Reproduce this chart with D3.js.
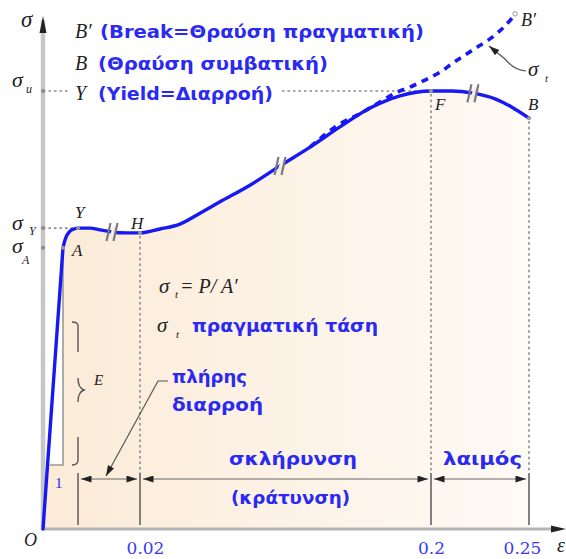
<!DOCTYPE html>
<html>
<head>
<meta charset="utf-8">
<script src="https://cdn.jsdelivr.net/npm/d3@7"></script>
<style>
  html, body { margin: 0; padding: 0; background: #fff; }
  svg { display: block; }
</style>
</head>
<body>
<svg id="chart" width="566" height="559"></svg>
<script>
// Engineering stress–strain curve, stress normalised so that σu = 1
const strain = [0, 0.00412, 0.00454, 0.00495, 0.00557, 0.00639, 0.00722, 0.00969, 0.01175, 0.01423, 0.01711, 0.02,
                0.0324, 0.0447, 0.0571, 0.0695, 0.0880, 0.1066, 0.1252, 0.1437, 0.1623, 0.1808, 0.2,
                0.2107, 0.2214, 0.2327, 0.2413, 0.25];
const stress = [0, 0.642, 0.660, 0.671, 0.680, 0.685, 0.687, 0.687, 0.683, 0.678, 0.676, 0.676,
                0.685, 0.696, 0.721, 0.747, 0.785, 0.829, 0.872, 0.918, 0.961, 0.989, 1.0,
                1.0, 0.995, 0.982, 0.963, 0.938];

// True stress branch (dashed) rising to B'
const trueStrain = [0.1252, 0.1437, 0.1561, 0.1684, 0.1777, 0.1870, 0.1963, 0.2046, 0.2112, 0.2173, 0.2235, 0.2301, 0.2367, 0.2429];
const trueStress = [0.872, 0.925, 0.948, 0.975, 0.995, 1.009, 1.025, 1.043, 1.064, 1.082, 1.100, 1.119, 1.144, 1.174];

// Strain ticks
const tickValues = [0.02, 0.2, 0.25];
const tickLabels = ["0.02", "0.2", "0.25"];

// Named points on the curve: A (proportional limit), Y (yield), H, F (ultimate), B (break)
const pointNames = ["A", "Y", "H", "F", "B"];
const pointStrains = [0.00412, 0.00722, 0.02, 0.2, 0.25];

// Stress levels marked on the vertical axis
const levelSubs = ["u", "Y", "A"];
const levelStress = [1.0, 0.687, 0.642];

// Axis breaks drawn on the curve
const breakStrains = [0.01423, 0.1066, 0.2214];

// Lower corner of the elastic slope triangle
const slopeBase = 0.146;

const svg = d3.select("#chart");
const x = d3.scaleLinear().domain([0, 0.02, 0.2, 0.25]).range([43, 140, 431, 529]);
const y = d3.scaleLinear().domain([0, 1]).range([529, 91]);

const BLUE = "#1818f4";
const TBLUE = "#2a2af2";
const serif = "'Liberation Serif', 'Times New Roman', serif";
const sans = "'DejaVu Sans', Verdana, sans-serif";

const defs = svg.append("defs");
const grad = defs.append("linearGradient").attr("id", "fillGrad")
  .attr("gradientUnits", "userSpaceOnUse")
  .attr("x1", x(0)).attr("x2", x(0.25)).attr("y1", 0).attr("y2", 0);
grad.append("stop").attr("offset", 0).attr("stop-color", "#fbebd7");
grad.append("stop").attr("offset", 1).attr("stop-color", "#fefaf5");

defs.append("marker").attr("id", "arr")
  .attr("viewBox", "0 0 12 8").attr("refX", 12).attr("refY", 4)
  .attr("markerWidth", 12).attr("markerHeight", 7)
  .attr("markerUnits", "userSpaceOnUse").attr("orient", "auto-start-reverse")
  .append("path").attr("d", "M0,0L12,4L0,8Z").attr("fill", "#222");

// ---- curve geometry ----
const pts = strain.map((s, i) => [x(s), y(stress[i])]);
const lineGen = d3.line().curve(d3.curveMonotoneX);
const tailD = lineGen(pts.slice(1));
const curveD = `M${pts[0][0]},${pts[0][1]}L` + tailD.slice(1);
const stressAt = s => stress[strain.indexOf(s)];

// filled region under the curve
svg.append("path")
  .attr("d", curveD + `L${x(0.25)},${y(0)}L${x(0)},${y(0)}Z`)
  .attr("fill", "url(#fillGrad)");

// elastic slope triangle (white inside)
const sA = pointStrains[0], fA = stressAt(sA);
const E = fA / sA;
svg.append("path")
  .attr("d", `M${x(sA)},${y(fA)}L${x(sA)},${y(slopeBase)}L${x(slopeBase / E)},${y(slopeBase)}Z`)
  .attr("fill", "#fff");
svg.append("path")
  .attr("d", `M${x(sA)},${y(fA) + 2}L${x(sA)},${y(slopeBase)}L${x(slopeBase / E) + 2},${y(slopeBase)}`)
  .attr("fill", "none").attr("stroke", "#9a9a9a").attr("stroke-width", 1.6);

// brace for E
svg.append("path")
  .attr("d", "M72,322 Q78,322 78,326 L78,352 M78,378 Q78,388 84,390 Q78,392 78,402 M78,437 L78,460 Q78,465 72,465")
  .attr("fill", "none").attr("stroke", "#555").attr("stroke-width", 1.4);

// ---- dotted guide lines ----
const dotted = (x1, y1, x2, y2) => svg.append("line")
  .attr("x1", x1).attr("y1", y1).attr("x2", x2).attr("y2", y2)
  .attr("stroke", "#8a8a8a").attr("stroke-width", 1.6).attr("stroke-dasharray", "2.5,3");

dotted(x(0), y(1), 70, y(1));
dotted(282, y(1), x(0.2), y(1));
dotted(x(0), y(levelStress[1]), x(pointStrains[1]), y(levelStress[1]));
const extTop = 473, extBot = 525, dimY = 479;
[0.02, 0.2, 0.25].forEach(s => dotted(x(s), y(stressAt(s)) + 3, x(s), extTop));

// extension lines
[pointStrains[1], 0.02, 0.2, 0.25].forEach(s => svg.append("line")
  .attr("x1", x(s)).attr("x2", x(s)).attr("y1", extTop).attr("y2", extBot)
  .attr("stroke", "#5a5a5a").attr("stroke-width", 1.5));

// dimension arrows
const zones = [[pointStrains[1], 0.02], [0.02, 0.2], [0.2, 0.25]];
zones.forEach(([a, b]) => svg.append("line")
  .attr("x1", x(a) + 3).attr("x2", x(b) - 3).attr("y1", dimY).attr("y2", dimY)
  .attr("stroke", "#666").attr("stroke-width", 1.2)
  .attr("marker-start", "url(#arr)").attr("marker-end", "url(#arr)"));

// leader from "πλήρης διαρροή"
svg.append("path").attr("d", "M168,381 L158,381 L106,476")
  .attr("fill", "none").attr("stroke", "#555").attr("stroke-width", 1.2)
  .attr("marker-end", "url(#arr)");

// leader from σt to the true-stress curve
svg.append("path").attr("d", "M526,71 Q514,70 505,59 L489,46")
  .attr("fill", "none").attr("stroke", "#555").attr("stroke-width", 1.2)
  .attr("marker-end", "url(#arr)");

// ---- axes ----
svg.append("line").attr("x1", x(0)).attr("x2", x(0)).attr("y1", 20).attr("y2", y(0) + 1)
  .attr("stroke", "#c6c6c6").attr("stroke-width", 4.5);
svg.append("path").attr("d", `M${x(0)},16L${x(0) - 3.5},33L${x(0) + 3.5},33Z`).attr("fill", "#222");
svg.append("line").attr("x1", x(0)).attr("x2", 555).attr("y1", y(0)).attr("y2", y(0))
  .attr("stroke", "#b4b4b4").attr("stroke-width", 3);
svg.append("path").attr("d", `M566,${y(0)}L551,${y(0) - 3.5}L551,${y(0) + 3.5}Z`).attr("fill", "#222");

const gx = svg.append("g").attr("transform", `translate(0,${y(0)})`)
  .call(d3.axisBottom(x).tickValues(tickValues).tickFormat((d, i) => tickLabels[i]).tickSize(0).tickPadding(13));
gx.select(".domain").remove();
gx.selectAll(".tick text")
  .attr("font-family", "'DejaVu Serif', serif").attr("font-size", 17)
  .attr("fill", "#3a3af5")
  .attr("dx", d => d === 0.02 ? 5 : (d === 0.25 ? -7 : 0));

// ---- curves ----
svg.append("path").attr("d", curveD)
  .attr("fill", "none").attr("stroke", BLUE).attr("stroke-width", 3.4)
  .attr("stroke-linejoin", "round").attr("stroke-linecap", "round");

const truePts = trueStrain.map((s, i) => [x(s), y(trueStress[i])]);
svg.append("path").attr("d", lineGen(truePts))
  .attr("fill", "none").attr("stroke", BLUE).attr("stroke-width", 3.6)
  .attr("stroke-dasharray", "7,6");

// axis breaks on the curve
breakStrains.forEach(s => {
  const px = x(s), py = y(stressAt(s));
  svg.append("path")
    .attr("d", `M${px - 3},${py + 6}L${px + 1},${py - 6}L${px + 5},${py - 6}L${px + 1},${py + 6}Z`)
    .attr("fill", "#f3eee9");
  [-3.5, 3.5].forEach(dx => svg.append("line")
    .attr("x1", px + dx - 2).attr("y1", py + 9).attr("x2", px + dx + 2).attr("y2", py - 9)
    .attr("stroke", "#7a7a7a").attr("stroke-width", 2.2));
});

// point markers
pointStrains.forEach(s => svg.append("circle")
  .attr("cx", x(s)).attr("cy", y(stressAt(s))).attr("r", 2).attr("fill", "#9a9a9a"));
levelStress.forEach(v => svg.append("circle")
  .attr("cx", x(0)).attr("cy", y(v)).attr("r", 2).attr("fill", "#8a8a8a"));
const bEnd = truePts[truePts.length - 1];
svg.append("circle").attr("cx", bEnd[0]).attr("cy", bEnd[1] - 1).attr("r", 2.2)
  .attr("fill", "#fff").attr("stroke", "#999").attr("stroke-width", 1);

// ---- text ----
const it = (t, px, py, size, anchor) => svg.append("text")
  .attr("x", px).attr("y", py).attr("font-family", serif).attr("font-style", "italic")
  .attr("font-size", size).attr("fill", "#222").attr("text-anchor", anchor || "start").text(t);

const blue = (t, px, py, len, size) => svg.append("text")
  .attr("x", px).attr("y", py).attr("font-family", sans).attr("font-weight", "bold")
  .attr("font-size", size || 17).attr("fill", TBLUE)
  .attr("textLength", len).attr("lengthAdjust", "spacingAndGlyphs").text(t);

// axis titles
it("σ", 21, 27, 23);
it("O", 24, 546, 18);
it("ε", 557, 552, 20);

// stress levels
it("σ", 12, 87, 22); it(levelSubs[0], 26, 93, 12);
it("σ", 12, 230, 22); it(levelSubs[1], 29, 235, 12);
it("σ", 12, 253, 22); it(levelSubs[2], 22, 264, 12);

// legend lines
it("B′", 75, 38, 20); blue("(Break=Θραύση πραγματική)", 100, 38, 324);
it("B", 75, 70, 20);  blue("(Θραύση συμβατική)", 98, 70, 230);
it("Y", 75, 100, 20); blue("(Yield=Διαρροή)", 98, 100, 175);

// point labels
it("Y", 75, 218, 17);
it("A", 72, 256, 17);
it("H", 131, 229, 17);
it("F", 435, 110, 17);
it("B", 528, 110, 17);
it("B′", 521, 26, 18);
it("σ", 528, 76, 21); it("t", 545, 82, 11);

// formula and labels
it("σ", 159, 293, 21); it("t", 175, 298, 11); it("= P/ A′", 180, 293, 20);
it("σ", 157, 332, 21); it("t", 176, 338, 11);
blue("πραγματική τάση", 192, 332, 186);
blue("πλήρης", 172, 383, 75);
blue("διαρροή", 172, 411, 91);
blue("σκλήρυνση", 229, 465, 128);
blue("(κράτυνση)", 231, 504, 119);
blue("λαιμός", 443, 465, 79);

it("E", 94, 385, 15);
svg.append("text").attr("x", 55).attr("y", 488).attr("font-family", serif)
  .attr("font-size", 15).attr("fill", TBLUE).text("1");
</script>
</body>
</html>
